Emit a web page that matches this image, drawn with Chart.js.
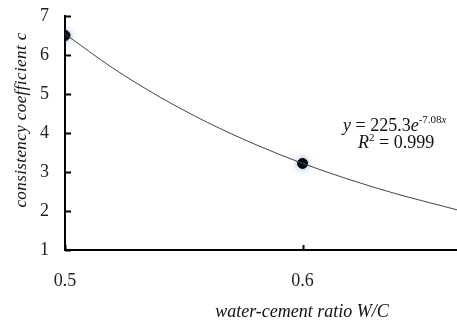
<!DOCTYPE html>
<html>
<head>
<meta charset="utf-8">
<script src="https://cdn.jsdelivr.net/npm/chart.js@4/dist/chart.umd.min.js"></script>
<style>
  html, body { margin: 0; padding: 0; background: #fff; }
</style>
</head>
<body>
<canvas id="myChart" width="457" height="322"></canvas>
<script>
// Measured points (water-cement ratio, consistency coefficient)
const wcRatio = [0.5, 0.6];
const consistency = [6.5, 3.22];

// Fitted exponential curve
const curveX = [0.50, 0.52, 0.54, 0.56, 0.58, 0.60, 0.62, 0.64, 0.66, 0.665];
const curveY = [6.54, 5.67, 4.92, 4.27, 3.71, 3.22, 2.80, 2.43, 2.11, 2.03];

// Axis ticks
const xTicks = [0.5, 0.6];
const yTicks = [1, 2, 3, 4, 5, 6, 7];

// Texts
const xTitle = 'water-cement ratio W/C';
const yTitle = 'consistency coefficient c';

const serif = '"Liberation Serif", "Times New Roman", serif';

// draws a row of [text, italic?, size, dy] pieces from x
function drawPieces(ctx, pieces, x, y) {
    pieces.forEach(([t, it, size, dy]) => {
        ctx.font = (it ? 'italic ' : '') + size + 'px ' + serif;
        ctx.fillText(t, x, y + dy);
        x += ctx.measureText(t).width;
    });
}

// inward tick marks, axis titles and the fit equation
const extras = {
    id: 'extras',
    beforeDatasetDraw(chart, args) {
        if (args.index === 1) {
            chart.ctx.save();
            chart.ctx.shadowColor = 'rgba(80, 140, 220, 0.7)';
            chart.ctx.shadowBlur = 6;
        }
    },
    afterDatasetDraw(chart, args) {
        if (args.index === 1) chart.ctx.restore();
    },
    afterDraw(chart) {
        const { ctx, chartArea, scales: { x, y } } = chart;
        ctx.save();
        ctx.strokeStyle = '#000';
        ctx.lineWidth = 2;
        yTicks.forEach(v => {
            const py = Math.round(y.getPixelForValue(v)) + 0.5;
            ctx.beginPath();
            ctx.moveTo(chartArea.left, py);
            ctx.lineTo(chartArea.left + 6, py);
            ctx.stroke();
        });
        xTicks.forEach(v => {
            const px = Math.round(x.getPixelForValue(v)) + 0.5;
            ctx.beginPath();
            ctx.moveTo(px, chartArea.bottom);
            ctx.lineTo(px, chartArea.bottom - 5);
            ctx.stroke();
        });

        ctx.fillStyle = '#111';
        ctx.textBaseline = 'middle';
        ctx.textAlign = 'center';
        ctx.font = 'italic 18px ' + serif;
        ctx.fillText(xTitle, 302, 312);

        ctx.save();
        ctx.translate(22, 120);
        ctx.rotate(-Math.PI / 2);
        ctx.font = 'italic 17px ' + serif;
        ctx.letterSpacing = '0.4px';
        ctx.fillText(yTitle, 0, 0);
        ctx.restore();

        // fit equation
        ctx.textAlign = 'left';
        ctx.textBaseline = 'alphabetic';
        drawPieces(ctx, [
            ['y', true, 18, 0], [' = 225.3', false, 18, 0], ['e', true, 18, 0],
            ['-7.08', false, 11, -8], ['x', true, 11, -8]
        ], 343, 131);
        drawPieces(ctx, [
            ['R', true, 18, 0], ['2', false, 11, -7], [' = 0.999', false, 18, 0]
        ], 358, 148);
        ctx.restore();
    }
};

const ctx = document.getElementById('myChart');
new Chart(ctx, {
    type: 'scatter',
    data: {
        datasets: [
            {
                data: curveX.map((v, i) => ({ x: v, y: curveY[i] })),
                showLine: true,
                borderColor: '#444',
                borderWidth: 1,
                pointRadius: 0,
                cubicInterpolationMode: 'monotone'
            },
            {
                data: wcRatio.map((v, i) => ({ x: v, y: consistency[i] })),
                backgroundColor: '#000',
                borderColor: '#000',
                pointRadius: 5
            }
        ]
    },
    options: {
        responsive: false,
        animation: false,
        layout: { autoPadding: false, padding: { top: 16, right: 0, left: 0, bottom: 0 } },
        plugins: {
            legend: { display: false },
            tooltip: { enabled: false }
        },
        scales: {
            x: {
                type: 'linear',
                min: 0.5,
                max: 0.665,
                afterBuildTicks: s => { s.ticks = xTicks.map(v => ({ value: v })); },
                afterFit: s => { s.height = 72; s.paddingLeft = 0; s.paddingRight = 0; },
                grid: { display: false, drawTicks: false },
                border: { display: true, color: '#000', width: 2 },
                ticks: {
                    color: '#222',
                    padding: 20,
                    maxRotation: 0,
                    font: { family: serif, size: 18 },
                    callback: v => v.toFixed(1)
                }
            },
            y: {
                min: 1,
                max: 7,
                afterBuildTicks: s => { s.ticks = yTicks.map(v => ({ value: v })); },
                afterFit: s => { s.width = 65; s.paddingTop = 0; s.paddingBottom = 0; },
                grid: { display: false, drawTicks: false },
                border: { display: true, color: '#000', width: 2 },
                ticks: {
                    color: '#222',
                    padding: 16,
                    font: { family: serif, size: 18 }
                }
            }
        }
    },
    plugins: [extras]
});
</script>
</body>
</html>
